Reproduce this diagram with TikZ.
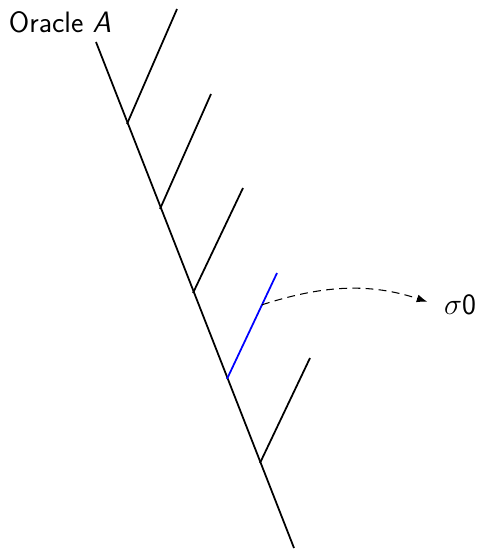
\documentclass[tikz,border=0pt]{standalone}
\usepackage{amsmath, amssymb}
\usepackage{tikz}
\usetikzlibrary{calc, arrows.meta, positioning}
\usepackage{xcolor}

\begin{document}
\begin{tikzpicture}[x=0.02cm, y=-0.02cm, font=\sffamily\fontsize{16.8}{20}\selectfont, line width=1pt]
    \useasboundingbox (0,0) rectangle (481,550);
    % Trunk
    \coordinate (top) at (96,42);
    \coordinate (bot) at (294,548);
    \draw (top) -- (bot);
    % Branches
    \foreach \i/\x/\y/\tx/\ty in {1/127/124/177/9, 2/160/209/211/94, 3/193/293/243/188, 5/260/463/310/358} {
      \coordinate (J\i) at (\x,\y);
      \coordinate (T\i) at (\tx,\ty);
      \draw (J\i) -- (T\i);
    }
    % Selected branch
    \coordinate (J4) at (227,379);
    \coordinate (T4) at (277,273);
    \draw[blue] (J4) -- (T4);
    % Labels
    \node (oracle) at (60,22) {Oracle \textit{A}};
    \node (sig) at (460,305) {$\sigma$0};
    \coordinate (M) at ($(J4)!0.7!(T4)$);
    \draw[dash pattern=on 4.5pt off 3pt, line width=0.6pt, -{Latex[length=6pt]}, shorten >=6pt] (M) to[bend left=18] (sig.west);
\end{tikzpicture}
\end{document}
